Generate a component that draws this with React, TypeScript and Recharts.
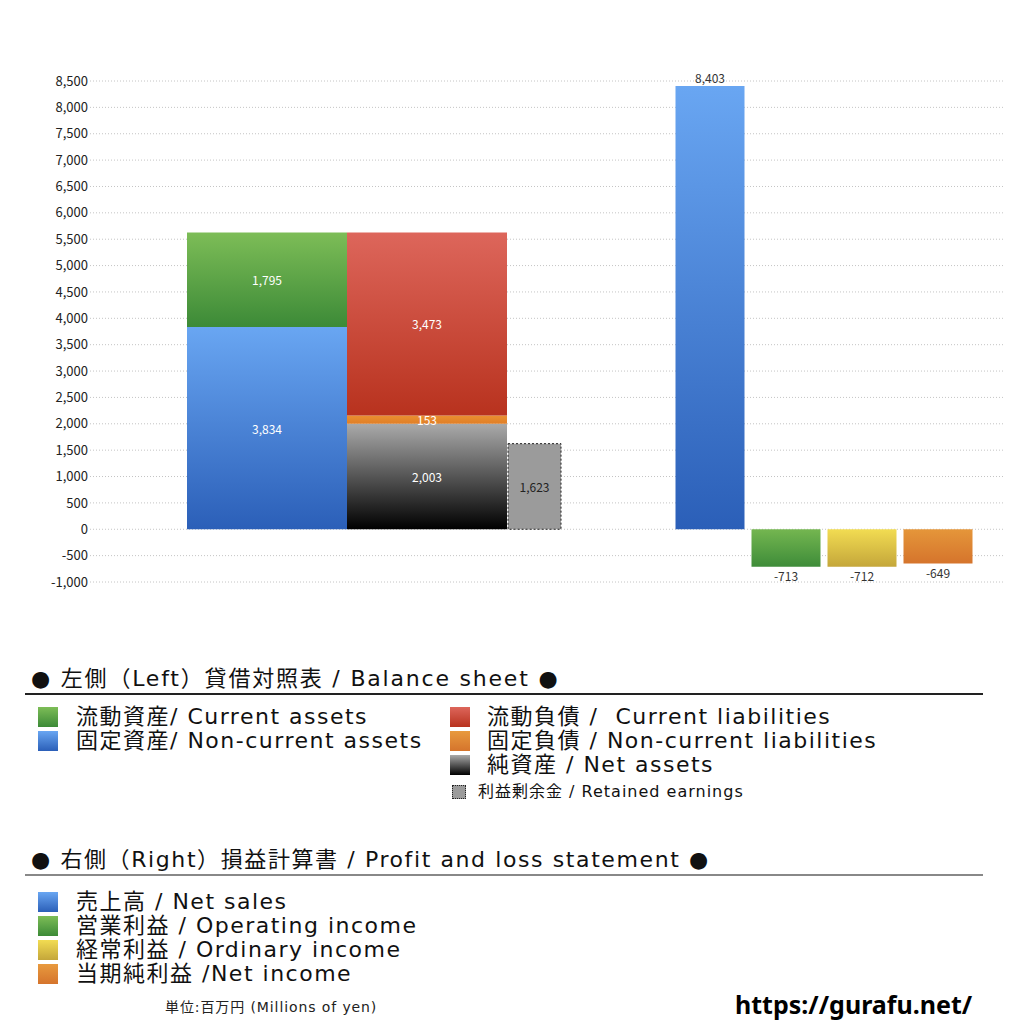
import React from 'react';
import { BarChart, Bar, XAxis, YAxis, CartesianGrid, Cell, LabelList } from 'recharts';

// ── Data (単位: 百万円) ─────────────────────────────────────────────
const PL_ITEMS = ['売上高', '営業利益', '経常利益', '当期純利益'];
const PL_VALUES = [8403, -713, -712, -649];

// balance sheet columns: [資産, 負債・純資産]
const CURRENT_ASSETS = [1795, null];
const NON_CURRENT_ASSETS = [3834, null];
const CURRENT_LIABILITIES = [null, 3473];
const NON_CURRENT_LIABILITIES = [null, 153];
const NET_ASSETS = [null, 2003];
const RETAINED_EARNINGS = [1623];

const Y_TICKS = [-1000, -500, 0, 500, 1000, 1500, 2000, 2500, 3000, 3500, 4000, 4500, 5000, 5500, 6000, 6500, 7000, 7500, 8000, 8500];

const PL_FILLS = ['url(#gBlue)', 'url(#gGreenPL)', 'url(#gYellow)', 'url(#gOrangePL)'];

const data = PL_ITEMS.map((name, i) => ({
  name,
  sales: PL_VALUES[i],
  nca: NON_CURRENT_ASSETS[i] ?? null,
  ca: CURRENT_ASSETS[i] ?? null,
  na: NET_ASSETS[i] ?? null,
  ncl: NON_CURRENT_LIABILITIES[i] ?? null,
  cl: CURRENT_LIABILITIES[i] ?? null,
  re: RETAINED_EARNINGS[i] ?? null,
}));

const FONT = "'Noto Sans CJK JP', 'Noto Sans', sans-serif";
const LEGEND_FONT = "'DejaVu Sans', 'Noto Sans CJK JP', sans-serif";
const fmt = (v: number) => v.toLocaleString('en-US');

const insideLabel = (color: string) => (props: any) => {
  const { x, y, width, height, value } = props;
  if (value == null || value === 0) return null;
  return (
    <text x={x + width / 2} y={y + height / 2} fill={color} fontSize={12} fontFamily={FONT}
      textAnchor="middle" dominantBaseline="central">
      {fmt(value)}
    </text>
  );
};

const outsideLabel = (props: any) => {
  const { x, y, width, height, value } = props;
  if (value == null) return null;
  const top = Math.min(y, y + height);
  const bottom = Math.max(y, y + height);
  const neg = value < 0;
  return (
    <text x={x + width / 2} y={neg ? bottom + 3 : top - 3} fill="#333" fontSize={12} fontFamily={FONT}
      textAnchor="middle" dominantBaseline={neg ? 'hanging' : 'auto'}>
      {fmt(value)}
    </text>
  );
};

function Grad({ id, top, bottom }: { id: string; top: string; bottom: string }) {
  return (
    <linearGradient id={id} x1="0" y1="0" x2="0" y2="1">
      <stop offset="0%" stopColor={top} />
      <stop offset="100%" stopColor={bottom} />
    </linearGradient>
  );
}

function Swatch({ bg, size = 20, dotted = false }: { bg: string; size?: number; dotted?: boolean }) {
  return (
    <div style={{
      width: size, height: size, background: bg, boxSizing: 'border-box',
      border: dotted ? '1px dotted #222' : 'none',
    }} />
  );
}

const G_BLUE = 'linear-gradient(#69a6f2, #2b5fb8)';
const G_GREEN = 'linear-gradient(#7dbd57, #3c8a37)';
const G_RED = 'linear-gradient(#dd665b, #b8321e)';
const G_ORANGE = 'linear-gradient(#e89a3e, #d5742c)';
const G_BLACK = 'linear-gradient(#aaaaaa, #000000)';
const G_YELLOW = 'linear-gradient(#f2dc52, #c4a63a)';

function Item({ left, top, bg, label, size = 20, fontSize = 22, spacing = 1.5, textLeft, dotted }: {
  left: number; top: number; bg: string; label: string; size?: number; fontSize?: number; spacing?: number; textLeft: number; dotted?: boolean;
}) {
  const lh = fontSize + 2;
  return (
    <>
      <div style={{ position: 'absolute', left, top }}>
        <Swatch bg={bg} size={size} dotted={dotted} />
      </div>
      <div style={{
        position: 'absolute', left: textLeft, top: top + size / 2 - lh / 2, height: lh, lineHeight: `${lh}px`,
        fontSize, color: '#111', whiteSpace: 'pre', fontFamily: LEGEND_FONT, letterSpacing: spacing,
      }}>{label}</div>
    </>
  );
}

export default function App() {
  return (
    <div style={{ position: 'absolute', left: 0, top: 0, width: 1024, height: 1024, background: '#fff', fontFamily: FONT }}>
      <div style={{ position: 'absolute', left: 0, top: 0 }}>
        <BarChart width={1024} height={600} data={data} barCategoryGap={0} barGap={0}
          margin={{ top: 81, right: 19, bottom: 18, left: 0 }}>
          <defs>
            <Grad id="gBlue" top="#69a6f2" bottom="#2b5fb8" />
            <Grad id="gGreen" top="#7dbd57" bottom="#3c8a37" />
            <Grad id="gRed" top="#dd665b" bottom="#b8321e" />
            <Grad id="gOrange" top="#ea8f30" bottom="#e07f28" />
            <Grad id="gBlack" top="#aaaaaa" bottom="#000000" />
            <Grad id="gGreenPL" top="#74b650" bottom="#3e8c39" />
            <Grad id="gYellow" top="#f2dc52" bottom="#c4a63a" />
            <Grad id="gOrangePL" top="#e5963a" bottom="#d5742c" />
          </defs>
          <CartesianGrid xAxisId="pl" vertical={false} stroke="#c4c4c4" strokeDasharray="1 2" />
          <XAxis xAxisId="bs" dataKey="name" hide padding={{ left: 97, right: 178 }} />
          <XAxis xAxisId="re" dataKey="name" hide padding={{ left: 418, right: 285 }} />
          <XAxis xAxisId="pl" dataKey="name" hide padding={{ left: 581.5, right: 29.5 }} />
          <YAxis width={90} domain={[-1000, 8500]} ticks={Y_TICKS} interval={0} tickFormatter={fmt}
            axisLine={false} tickLine={false} tickSize={0} tickMargin={2}
            tick={{ fill: '#222', fontSize: 13, fontFamily: FONT }} />

          <Bar xAxisId="bs" stackId="bs" dataKey="nca" fill="url(#gBlue)" isAnimationActive={false}>
            <LabelList dataKey="nca" content={insideLabel('#fff')} />
          </Bar>
          <Bar xAxisId="bs" stackId="bs" dataKey="ca" fill="url(#gGreen)" isAnimationActive={false}>
            <LabelList dataKey="ca" content={insideLabel('#fff')} />
          </Bar>
          <Bar xAxisId="bs" stackId="bs" dataKey="na" fill="url(#gBlack)" isAnimationActive={false}>
            <LabelList dataKey="na" content={insideLabel('#fff')} />
          </Bar>
          <Bar xAxisId="bs" stackId="bs" dataKey="ncl" fill="url(#gOrange)" isAnimationActive={false}>
            <LabelList dataKey="ncl" content={insideLabel('#fff')} />
          </Bar>
          <Bar xAxisId="bs" stackId="bs" dataKey="cl" fill="url(#gRed)" isAnimationActive={false}>
            <LabelList dataKey="cl" content={insideLabel('#fff')} />
          </Bar>

          <Bar xAxisId="re" dataKey="re" fill="#9b9b9b" stroke="#222" strokeWidth={1} strokeDasharray="2 2"
            isAnimationActive={false}>
            <LabelList dataKey="re" content={insideLabel('#222')} />
          </Bar>

          <Bar xAxisId="pl" dataKey="sales" barSize={69} isAnimationActive={false}>
            {data.map((_, i) => <Cell key={i} fill={PL_FILLS[i]} />)}
            <LabelList dataKey="sales" content={outsideLabel} />
          </Bar>
        </BarChart>
      </div>

      {/* ── Balance sheet legend ── */}
      <div style={{ position: 'absolute', left: 31, top: 666, fontSize: 22, lineHeight: '26px', color: '#111', whiteSpace: 'pre', fontFamily: LEGEND_FONT, letterSpacing: 1.8 }}>
        ● 左側（Left）貸借対照表 / Balance sheet ●
      </div>
      <div style={{ position: 'absolute', left: 25, top: 693, width: 958, height: 1.5, background: '#222' }} />
      <Item left={38} top={707} bg={G_GREEN} textLeft={76} label="流動資産/ Current assets" />
      <Item left={38} top={731} bg={G_BLUE} textLeft={76} label="固定資産/ Non-current assets" />
      <Item left={450} top={707} bg={G_RED} textLeft={487} label="流動負債 /  Current liabilities" />
      <Item left={450} top={731} bg={G_ORANGE} textLeft={487} label="固定負債 / Non-current liabilities" />
      <Item left={450} top={755} bg={G_BLACK} textLeft={487} label="純資産 / Net assets" />
      <Item left={452} top={785} bg="#9b9b9b" size={14} fontSize={16} spacing={1} dotted textLeft={478} label="利益剰余金 / Retained earnings" />

      {/* ── Profit and loss legend ── */}
      <div style={{ position: 'absolute', left: 31, top: 847, fontSize: 22, lineHeight: '26px', color: '#111', whiteSpace: 'pre', fontFamily: LEGEND_FONT, letterSpacing: 1.6 }}>
        ● 右側（Right）損益計算書 / Profit and loss statement ●
      </div>
      <div style={{ position: 'absolute', left: 25, top: 874, width: 958, height: 2, background: '#888' }} />
      <Item left={38} top={892} bg={G_BLUE} textLeft={76} label="売上高 / Net sales" />
      <Item left={38} top={916} bg={G_GREEN} textLeft={76} label="営業利益 / Operating income" />
      <Item left={38} top={940} bg={G_YELLOW} textLeft={76} label="経常利益 / Ordinary income" />
      <Item left={38} top={964} bg={G_ORANGE} textLeft={76} label="当期純利益 /Net income" />

      <div style={{ position: 'absolute', left: 165, top: 998, fontSize: 14, lineHeight: '18px', color: '#222', whiteSpace: 'pre', fontFamily: LEGEND_FONT, letterSpacing: 0.9 }}>
        単位:百万円 (Millions of yen)
      </div>
      <div style={{ position: 'absolute', left: 735, top: 989, fontSize: 25, lineHeight: '30px', fontWeight: 700, color: '#000', fontFamily: "'Noto Sans', sans-serif" }}>
        https://gurafu.net/
      </div>
    </div>
  );
}
